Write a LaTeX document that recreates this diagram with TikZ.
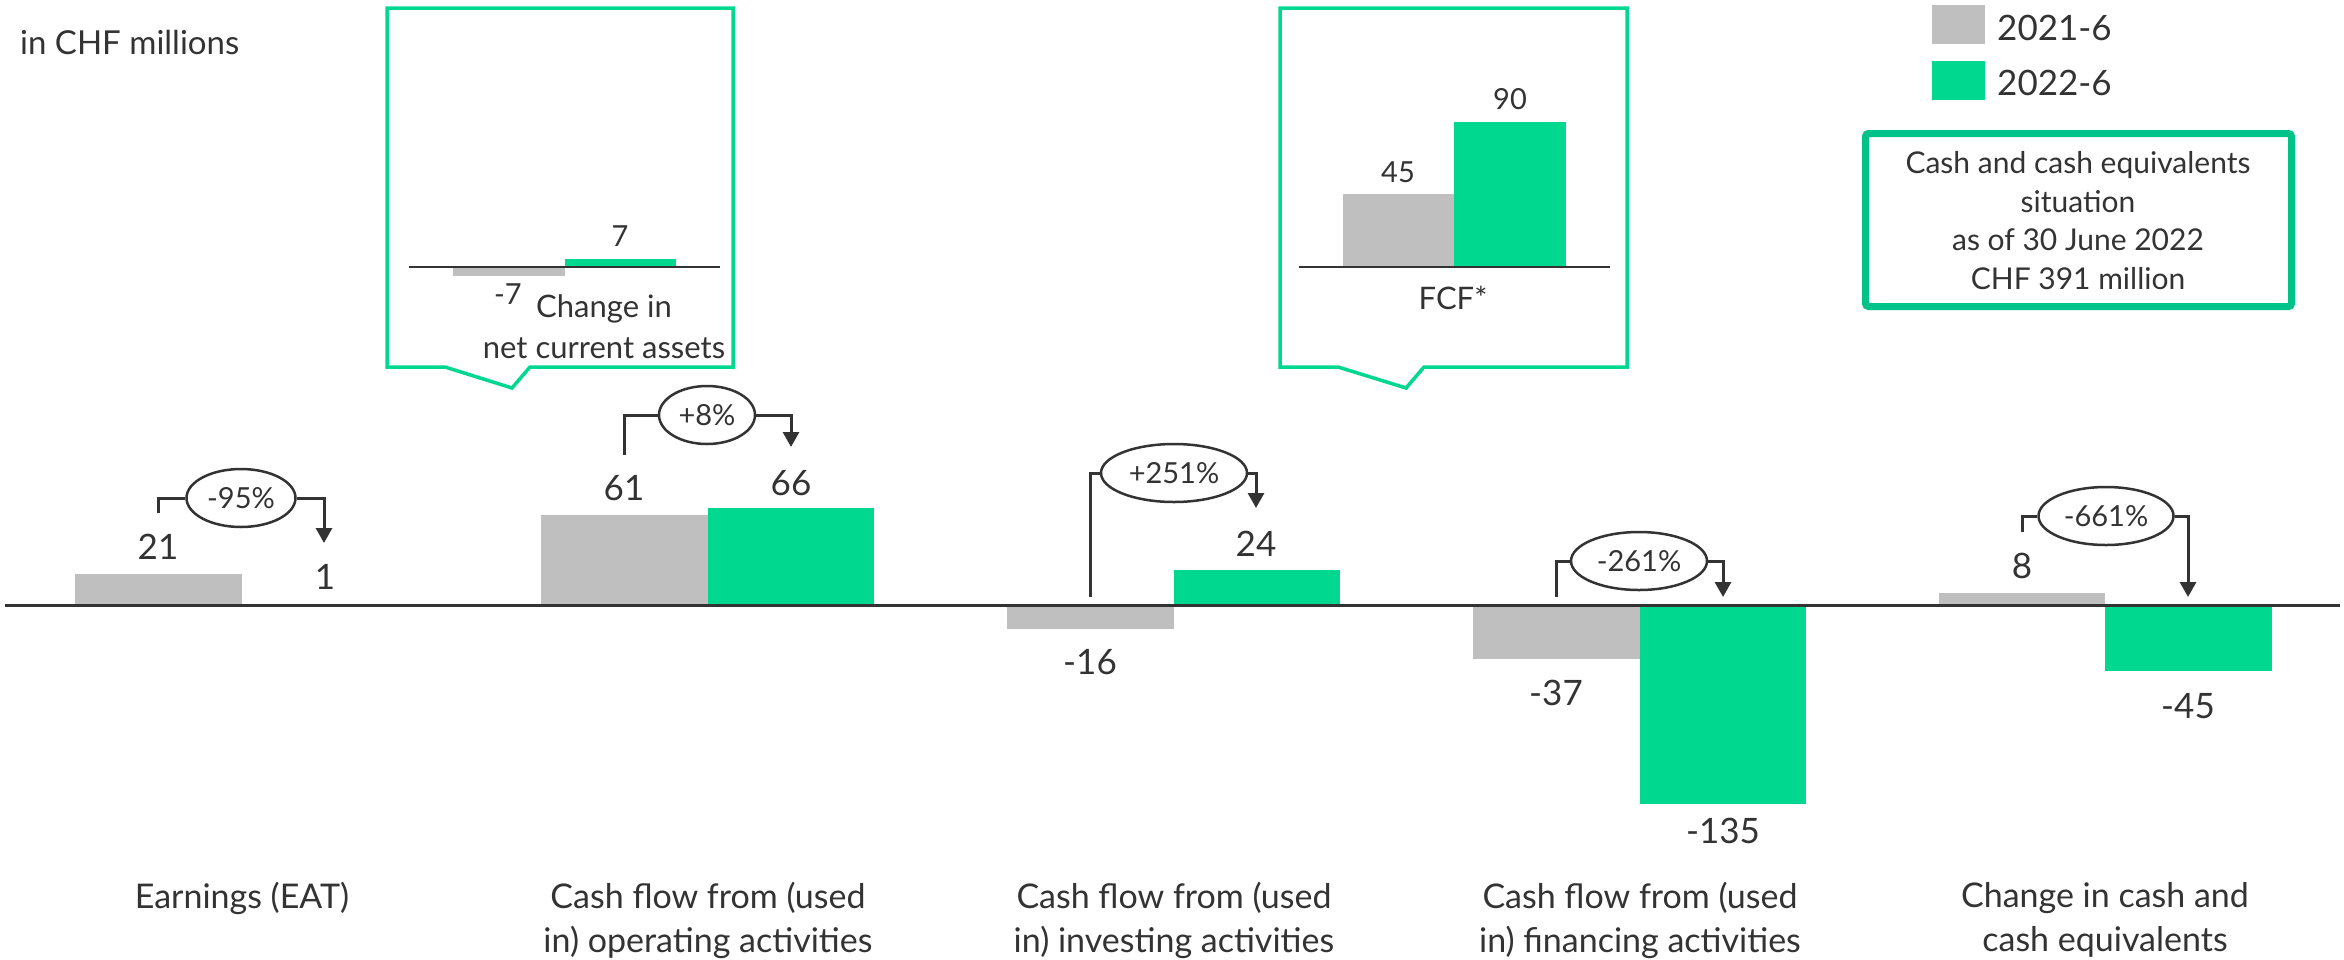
\documentclass[tikz,border=0pt]{standalone}
\usepackage{fontspec}
\setmainfont{Lato}
\usetikzlibrary{arrows.meta,shapes.geometric}
\definecolor{grn}{HTML}{00D88F}
\definecolor{grnb}{HTML}{00C389}
\definecolor{gry}{HTML}{BFBFBF}
\definecolor{txt}{HTML}{333333}
\begin{document}
\begin{tikzpicture}[x=1pt,y=-1pt,
  every node/.style={text=txt, inner sep=0pt},
  valtxt/.style={font=\fontsize{35}{40}\selectfont},
  cattxt/.style={font=\fontsize{34}{44}\selectfont, align=center},
  cotxt/.style={font=\fontsize{29}{34}\selectfont},
  cocat/.style={font=\fontsize{31}{41}\selectfont, align=center},
  pct/.style={draw=txt, line width=2.5pt, ellipse, minimum height=58pt, font=\fontsize{29}{32}\selectfont},
  brk/.style={draw=txt, line width=3pt},
  arr/.style={brk, -{Triangle[width=16pt,length=15pt]}},
  callout/.style={draw=grn, line width=3.5pt, fill=white},
  axisline/.style={draw=txt, line width=3pt},
  smallaxis/.style={draw=txt, line width=2pt}]
\fill[white] (0,0) rectangle (2344,959);
\useasboundingbox (0,0) rectangle (2344,959);

% header
\node[anchor=west, font=\fontsize{33}{38}\selectfont] (unit) at (20,42) {in CHF millions};

% legend
\fill[gry] (1932,5) rectangle (1985,44);
\fill[grn] (1932,61) rectangle (1985,100);
\node[anchor=west, font=\fontsize{35}{40}\selectfont] (l1) at (1997,28) {2021-6};
\node[anchor=west, font=\fontsize{35}{40}\selectfont] (l2) at (1997,83) {2022-6};

% cash box
\draw[draw=grnb, line width=7pt, rounded corners=3pt] (1865.5,133.5) rectangle (2291.5,306.5);
\node[align=center, font=\fontsize{30}{38.5}\selectfont] (cashbox) at (2078,220.5)
  {Cash and cash equivalents\\situation\\as of 30 June 2022\\CHF 391 million};

% callout 1
\draw[callout] (387,8) -- (733,8) -- (733,367) -- (530,367) -- (512,388) -- (445,367) -- (387,367) -- cycle;
\fill[gry] (453,267) rectangle (565,276);
\fill[grn] (565,259) rectangle (676,267);
\draw[smallaxis] (409,267) -- (720,267);
\node[cotxt] (c1g) at (620,236) {7};
\node[cotxt] (c1r) at (508,294) {-7};
\node[cocat] (c1lab) at (604,327) {Change in\\net current assets};

% callout 2
\draw[callout] (1280,8) -- (1627,8) -- (1627,367) -- (1424,367) -- (1406,388) -- (1338,367) -- (1280,367) -- cycle;
\fill[gry] (1343,194) rectangle (1454,267);
\fill[grn] (1454,122) rectangle (1566,267);
\draw[smallaxis] (1299,267) -- (1610,267);
\node[cotxt] (c2r) at (1398,172) {45};
\node[cotxt] (c2g) at (1510,99) {90};
\node[cocat] (c2lab) at (1453,298) {FCF*};

% bars
\fill[gry] (75,605) rectangle (242,574.1);
\fill[grn] (242,605) rectangle (408,603.5);
\fill[gry] (541,605) rectangle (708,515.3);
\fill[grn] (708,605) rectangle (874,508);
\fill[gry] (1007,605) rectangle (1174,628.5);
\fill[grn] (1174,605) rectangle (1340,569.7);
\fill[gry] (1473,605) rectangle (1640,659.4);
\fill[grn] (1640,605) rectangle (1806,803.5);
\fill[gry] (1939,605) rectangle (2105,593.2);
\fill[grn] (2105,605) rectangle (2272,671.2);
\draw[axisline] (5,605) -- (2340,605);

% value labels
\node[valtxt] (v1a) at (158,547) {21};
\node[valtxt] (v1b) at (325,577) {1};
\node[valtxt] (v2a) at (624,488) {61};
\node[valtxt] (v2b) at (791,483) {66};
\node[valtxt] (v3a) at (1090,662) {-16};
\node[valtxt] (v3b) at (1256,544) {24};
\node[valtxt] (v4a) at (1556,693) {-37};
\node[valtxt] (v4b) at (1723,831) {-135};
\node[valtxt] (v5a) at (2022,566) {8};
\node[valtxt] (v5b) at (2188,706) {-45};

% category labels
\node[cattxt] (cat1) at (242,898) {Earnings (EAT)};
\node[cattxt] (cat2) at (708,920) {Cash flow from (used\\in) operating activities};
\node[cattxt] (cat3) at (1174,920) {Cash flow from (used\\in) investing activities};
\node[cattxt] (cat4) at (1640,920) {Cash flow from (used\\in) financing activities};
\node[cattxt] (cat5) at (2105,920) {Change in cash and\\cash equivalents};

% percentage ellipses
\node[pct, minimum width=109pt] (e1) at (241,498) {-95\%};
\node[pct, minimum width=96pt] (e2) at (707,415) {+8\%};
\node[pct, minimum width=146pt] (e3) at (1174,473) {+251\%};
\node[pct, minimum width=136pt] (e4) at (1639,561) {-261\%};
\node[pct, minimum width=135pt] (e5) at (2106,516) {-661\%};

% bracket ends
\coordinate (s1) at (158,513); \coordinate (t1) at (324,543);
\coordinate (s2) at (624,455); \coordinate (t2) at (791,447);
\coordinate (s3) at (1090,597); \coordinate (t3) at (1256,508);
\coordinate (s4) at (1556,597); \coordinate (t4) at (1723,597);
\coordinate (s5) at (2022,532); \coordinate (t5) at (2188,597);

\foreach \i in {1,...,5}{
  \draw[brk] (s\i) |- (e\i.west);
  \draw[arr] (e\i.east) -| (t\i);
}
\end{tikzpicture}
\end{document}
